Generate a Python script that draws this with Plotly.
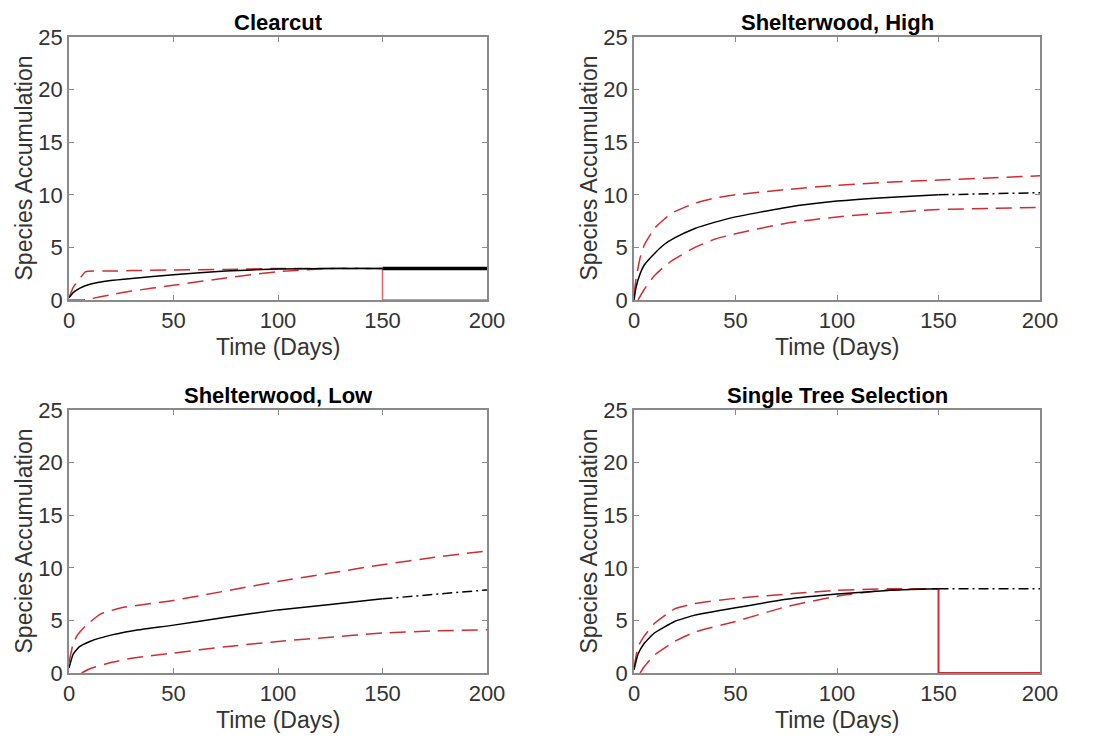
import plotly.graph_objects as go

# ---------------- data ----------------
titles = ["Clearcut", "Shelterwood, High", "Shelterwood, Low", "Single Tree Selection"]
x_ticks = [0, 50, 100, 150, 200]
y_ticks = [0, 5, 10, 15, 20, 25]

# Clearcut
cc_t = [0, 2, 5, 10, 20, 30, 50, 75, 100, 125, 150]
cc_mean = [0.2, 0.7, 1.1, 1.5, 1.85, 2.05, 2.4, 2.75, 2.95, 3.0, 3.0]
cc_up_t = [0, 2, 5, 8, 20, 30, 50, 75, 100, 125, 150]
cc_up = [0.2, 1.2, 2.0, 2.7, 2.75, 2.8, 2.85, 2.9, 3.0, 3.0, 3.0]
cc_lo_t = [0, 7, 10, 20, 30, 50, 75, 100, 125, 150]
cc_lo = [0.0, 0.0, 0.1, 0.5, 0.85, 1.4, 2.1, 2.7, 3.0, 3.0]
cc_ext_t = [150, 200]
cc_ext = [3.0, 3.0]
cc_drop_t = [150, 150, 200]
cc_drop = [3.0, 0.0, 0.0]

# Shelterwood, High
sh_t = [0, 1, 3, 5, 10, 15, 20, 30, 40, 50, 75, 100, 125, 150]
sh_mean = [0, 1.2, 2.5, 3.3, 4.4, 5.3, 5.9, 6.8, 7.4, 7.9, 8.8, 9.4, 9.75, 10.0]
sh_up_t = [0, 1, 3, 5, 10, 15, 20, 30, 40, 50, 75, 100, 125, 150, 175, 200]
sh_up = [0.5, 2.0, 4.0, 5.2, 6.8, 7.7, 8.4, 9.2, 9.7, 10.0, 10.5, 10.9, 11.2, 11.4, 11.6, 11.8]
sh_lo_t = [2, 5, 10, 15, 20, 30, 40, 50, 75, 100, 125, 150, 175, 200]
sh_lo = [0, 1.0, 2.3, 3.2, 3.9, 5.0, 5.8, 6.3, 7.3, 7.9, 8.3, 8.6, 8.7, 8.8]
sh_ext_t = [150, 175, 200]
sh_ext = [10.0, 10.1, 10.2]

# Shelterwood, Low
sl_t = [0, 2, 5, 10, 20, 30, 50, 75, 100, 125, 150]
sl_mean = [0.5, 1.8, 2.5, 3.0, 3.6, 4.0, 4.55, 5.3, 6.0, 6.5, 7.05]
sl_up_t = [0, 2, 4, 8, 15, 25, 50, 75, 100, 125, 150, 175, 200]
sl_up = [1.0, 2.8, 3.6, 4.5, 5.6, 6.2, 6.9, 7.8, 8.7, 9.5, 10.3, 11.0, 11.6]
sl_lo_t = [6, 10, 20, 30, 50, 75, 100, 125, 150, 175, 200]
sl_lo = [0, 0.4, 1.0, 1.4, 1.9, 2.5, 3.0, 3.4, 3.8, 4.0, 4.1]
sl_ext_t = [150, 175, 200]
sl_ext = [7.05, 7.5, 7.9]

# Single Tree Selection
st_t = [0, 2, 5, 10, 20, 30, 50, 75, 100, 125, 150]
st_mean = [0.3, 1.8, 2.8, 3.8, 4.9, 5.5, 6.2, 7.0, 7.5, 7.85, 8.0]
st_up_t = [0, 2, 5, 10, 20, 30, 50, 75, 100, 125, 150]
st_up = [0.5, 2.5, 3.5, 4.7, 6.1, 6.6, 7.1, 7.5, 7.85, 8.0, 8.0]
st_lo_t = [3, 5, 10, 20, 30, 50, 75, 100, 125, 150]
st_lo = [0, 0.6, 1.7, 3.0, 3.9, 4.9, 6.3, 7.3, 7.9, 8.0]
st_ext_t = [150, 200]
st_ext = [8.0, 8.0]
st_drop_t = [150, 150, 200]
st_drop = [8.0, 0.0, 0.0]

panels = [
    (cc_t, cc_mean, cc_up_t, cc_up, cc_lo_t, cc_lo, cc_ext_t, cc_ext, cc_drop_t, cc_drop),
    (sh_t, sh_mean, sh_up_t, sh_up, sh_lo_t, sh_lo, sh_ext_t, sh_ext, None, None),
    (sl_t, sl_mean, sl_up_t, sl_up, sl_lo_t, sl_lo, sl_ext_t, sl_ext, None, None),
    (st_t, st_mean, st_up_t, st_up, st_lo_t, st_lo, st_ext_t, st_ext, st_drop_t, st_drop),
]

# ---------------- layout geometry ----------------
OFF = 8                      # default page body margin
W, H = 1095 - 2 * OFF, 744 - 2 * OFF
x_doms = [(69, 487), (634, 1040)]      # page pixel positions
y_doms = [(37, 300), (410, 673)]


def px(xp):
    return (xp - OFF) / W


def py(yp):
    return 1 - (yp - OFF) / H


RED = "rgb(208,45,50)"
AX = "#8a8a8a"
TXT = "#333333"
FONT = "Liberation Sans, Arial, sans-serif"

fig = go.Figure()
annotations = []

for i, (t, m, ut, u, lt, lo, et, e, dt, d) in enumerate(panels):
    r, c = divmod(i, 2)
    xa = "x" if i == 0 else f"x{i+1}"
    ya = "y" if i == 0 else f"y{i+1}"
    ext_width = 3.5 if i == 0 else 1.5
    ext_dash = "solid" if i == 0 else "10px,4px,2px,4px"
    for xs, ys in ((ut, u), (lt, lo)):
        fig.add_trace(go.Scatter(x=xs, y=ys, mode="lines", xaxis=xa, yaxis=ya,
                                 line=dict(color=RED, width=1.5, dash="16px,8px",
                                           shape="spline", smoothing=0.4),
                                 showlegend=False))
    if dt is not None:
        fig.add_trace(go.Scatter(x=dt, y=d, mode="lines", xaxis=xa, yaxis=ya,
                                 line=dict(color=RED if i == 3 else "rgb(228,100,110)",
                                           width=2 if i == 3 else 1.5),
                                 showlegend=False))
    fig.add_trace(go.Scatter(x=t, y=m, mode="lines", xaxis=xa, yaxis=ya,
                             line=dict(color="black", width=1.5, shape="spline", smoothing=0.4),
                             showlegend=False))
    fig.add_trace(go.Scatter(x=et, y=e, mode="lines", xaxis=xa, yaxis=ya,
                             line=dict(color="black", width=ext_width, dash=ext_dash),
                             showlegend=False))

    x0, x1 = x_doms[c]
    y0, y1 = y_doms[r]
    axcommon = dict(showline=True, linecolor=AX, linewidth=1.5, mirror="ticks",
                    ticks="inside", ticklen=5, tickcolor=AX, tickwidth=1,
                    showgrid=False, zeroline=False, layer="below traces", automargin=False,
                    tickfont=dict(family=FONT, size=22, color=TXT), fixedrange=True)
    fig.update_layout(**{
        ("xaxis" if i == 0 else f"xaxis{i+1}"): dict(domain=[px(x0), px(x1)], range=[0, 200],
                                                      tickvals=x_ticks, anchor=ya, **axcommon),
        ("yaxis" if i == 0 else f"yaxis{i+1}"): dict(domain=[py(y1), py(y0)], range=[0, 25],
                                                      tickvals=y_ticks, anchor=xa, **axcommon),
    })
    cxp = (x0 + x1) / 2
    annotations.append(dict(text=f"<b>{titles[i]}</b>", x=px(cxp), y=py(y0 - 15), xref="paper", yref="paper",
                            showarrow=False, xanchor="center", yanchor="middle",
                            font=dict(family=FONT, size=22, color="black")))
    annotations.append(dict(text="Time (Days)", x=px(cxp), y=py(y1 + 47), xref="paper", yref="paper",
                            showarrow=False, xanchor="center", yanchor="middle",
                            font=dict(family=FONT, size=23, color=TXT)))
    annotations.append(dict(text="Species Accumulation", x=px(x0 - 46), y=py((y0 + y1) / 2),
                            xref="paper", yref="paper", textangle=-90,
                            showarrow=False, xanchor="center", yanchor="middle",
                            font=dict(family=FONT, size=23, color=TXT)))

fig.update_layout(width=W, height=H, margin=dict(l=0, r=0, t=0, b=0),
                  paper_bgcolor="white", plot_bgcolor="white",
                  annotations=annotations, showlegend=False)

fig.write_html("out.html")
